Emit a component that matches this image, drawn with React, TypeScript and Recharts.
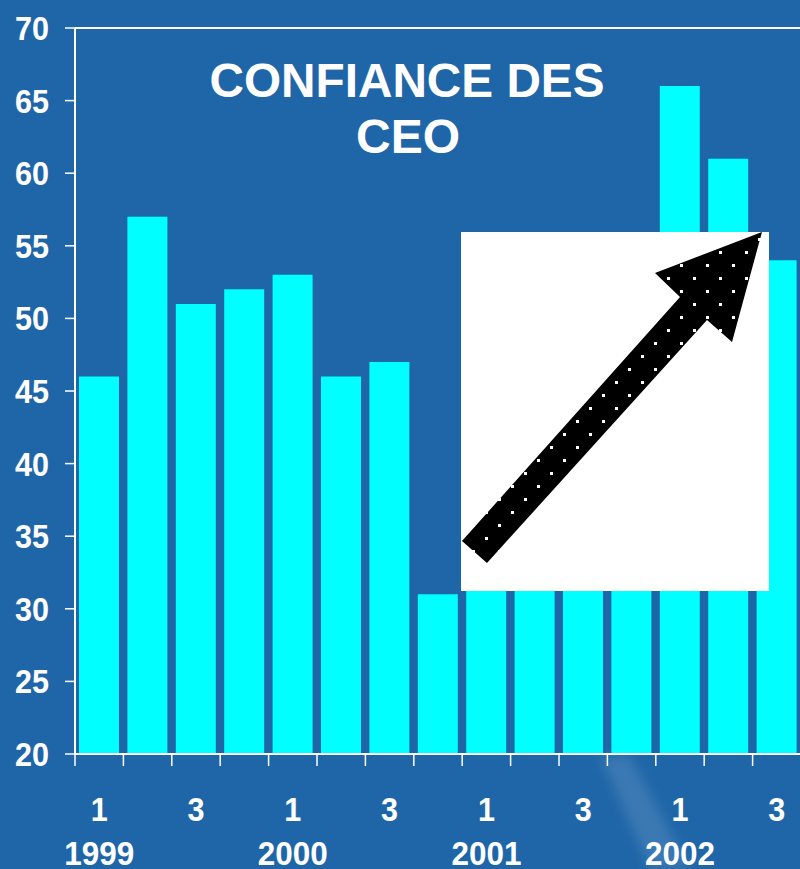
import React from 'react';
import { BarChart, Bar, XAxis, YAxis, ReferenceLine } from 'recharts';

// Quarterly CEO confidence index, 1999 Q1 – 2002 Q3
const quarters = [1, 2, 3, 4, 1, 2, 3, 4, 1, 2, 3, 4, 1, 2, 3];
const years = ['1999', '', '', '', '2000', '', '', '', '2001', '', '', '', '2002', '', ''];
const confidence = [46, 57, 51, 52, 53, 46, 47, 31, 40, 44, 42, 50, 66, 61, 54];
const yTicks = [20, 25, 30, 35, 40, 45, 50, 55, 60, 65, 70];

const data = quarters.map((q, i) => ({
  key: `${years[i] || ''}-${i}`,
  quarter: q,
  year: years[i],
  value: confidence[i],
}));

const BG = '#1F66A8';
const CYAN = '#00FFFF';
const FONT = '"Liberation Sans", Arial, sans-serif';
const PLOT_W = 726;
const BAND = PLOT_W / quarters.length;

function QuarterTick(props: any) {
  const { x, y, index } = props;
  const d = data[index];
  if (!d) return null;
  const left = x - BAND / 2;
  const showQ = d.quarter === 1 || d.quarter === 3;
  return (
    <g>
      <line x1={left} x2={left} y1={y} y2={y + 12} stroke="#fff" strokeWidth={1.5} />
      {showQ && (
        <text x={x} y={y + 67} textAnchor="middle" fill="#fff" fontSize={33} fontWeight="bold" fontFamily={FONT}
          textLength={17} lengthAdjust="spacingAndGlyphs">
          {d.quarter}
        </text>
      )}
      {d.year && (
        <text x={x} y={y + 111} textAnchor="middle" fill="#fff" fontSize={33} fontWeight="bold" fontFamily={FONT}
          textLength={70} lengthAdjust="spacingAndGlyphs">
          {d.year}
        </text>
      )}
    </g>
  );
}

function ValueTick(props: any) {
  const { y, payload } = props;
  return (
    <text x={49} y={y + 12} textAnchor="end" fill="#fff" fontSize={33} fontWeight="bold" fontFamily={FONT}
      textLength={34} lengthAdjust="spacingAndGlyphs">
      {payload.value}
    </text>
  );
}

export default function App() {
  return (
    <div style={{ position: 'absolute', left: 0, top: 0, width: 800, height: 869, overflow: 'hidden', background: BG }}>
      <BarChart width={802} height={869} data={data} margin={{ top: 28, right: 1, bottom: 0, left: 0 }} barSize={40}>
        <XAxis
          dataKey="key"
          height={115}
          interval={0}
          tickSize={0}
          tickMargin={0}
          axisLine={{ stroke: '#fff', strokeWidth: 2 }}
          tick={<QuarterTick />}
        />
        <YAxis
          width={75}
          domain={[20, 70]}
          ticks={yTicks}
          allowDataOverflow
          interval={0}
          tickSize={10}
          tickMargin={15}
          axisLine={{ stroke: '#fff', strokeWidth: 2 }}
          tickLine={{ stroke: '#fff', strokeWidth: 1.5 }}
          tick={<ValueTick />}
        />
        <ReferenceLine y={70} stroke="#fff" strokeWidth={2} />
        <Bar dataKey="value" fill={CYAN} isAnimationActive={false} />
      </BarChart>

      {/* title, inset image and light streak */}
      <svg width={800} height={869} style={{ position: 'absolute', left: 0, top: 0, pointerEvents: 'none' }}>
        <defs>
          <pattern id="dots" width={26} height={26} patternUnits="userSpaceOnUse">
            <rect x={0} y={0} width={26} height={26} fill="#000" />
            <rect x={4} y={4} width={3} height={3} fill="#fff" />
            <rect x={17} y={17} width={3} height={3} fill="#fff" />
          </pattern>
          <filter id="blur">
            <feGaussianBlur stdDeviation={6} />
          </filter>
        </defs>
        <polygon points="600,756 630,756 690,869 650,869" fill="#ffffff" opacity={0.12} filter="url(#blur)" />
        <text x={407} y={97} textAnchor="middle" fill="#fff" fontSize={48} fontWeight="bold" fontFamily={FONT}
          textLength={395} lengthAdjust="spacingAndGlyphs">
          CONFIANCE DES
        </text>
        <text x={408} y={153} textAnchor="middle" fill="#fff" fontSize={48} fontWeight="bold" fontFamily={FONT}>
          CEO
        </text>
        <rect x={461} y={232} width={308} height={359} fill="#fff" />
        <polygon
          points="462,541 487,563 707,320 732,342 762,232 655,273 680,297"
          fill="url(#dots)"
        />
      </svg>
    </div>
  );
}
